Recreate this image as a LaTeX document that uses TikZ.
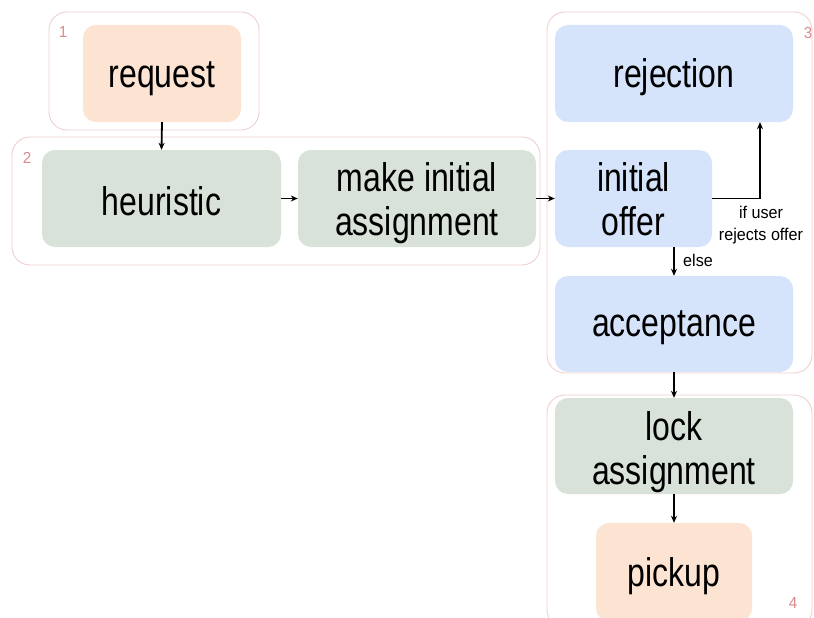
\documentclass[tikz,border=0pt]{standalone}
\usepackage{fontspec}
\setmainfont[FakeStretch=0.8]{Liberation Sans}
\newfontfamily\labelfont[FakeStretch=0.95]{Liberation Sans}
\usetikzlibrary{arrows.meta}
\definecolor{peach}{HTML}{FCE3D2}
\definecolor{sage}{HTML}{D9E2D9}
\definecolor{sky}{HTML}{D6E4FB}
\definecolor{frame}{HTML}{EFD0D0}
\definecolor{tag}{HTML}{D98C8E}
\tikzset{
  box/.style={rounded corners=13pt, draw=none, inner sep=0pt},
  boxtext/.style={inner sep=0pt, align=center, font=\fontsize{40}{44}\selectfont},
  group/.style={draw=frame, line width=0.9pt, rounded corners=18pt},
  tagnum/.style={text=tag, font=\labelfont\fontsize{16}{18}\selectfont, inner sep=0pt},
  arr/.style={draw=black, line width=1.8pt, -{Stealth[length=7pt,width=6pt]}},
  note/.style={font=\labelfont\fontsize{17}{22}\selectfont, align=center, inner sep=0pt}
}
\begin{document}
\begin{tikzpicture}[x=1pt,y=-1pt]
\useasboundingbox (0,0) rectangle (814,618);
\clip (0,0) rectangle (814,618);
\fill[white] (0,0) rectangle (814,618);

% stage frames
\draw[group] (49,12) rectangle (259,130);
\draw[group] (12,137) rectangle (540,265);
\draw[group] (547,12) rectangle (812,373);
\draw[group] (547,395) rectangle (812,628);

\node[tagnum] (t1) at (63,32) {1};
\node[tagnum] (t2) at (27,158) {2};
\node[tagnum] (t3) at (808,33) {3};
\node[tagnum] (t4) at (793,603) {4};

% step boxes
\node[box, fill=peach, minimum width=158pt, minimum height=97pt] (req) at (162,73.5) {};
\node[box, fill=sage, minimum width=239pt, minimum height=97pt] (heur) at (161.5,198.5) {};
\node[box, fill=sage, minimum width=238pt, minimum height=97pt] (make) at (417,198.5) {};
\node[box, fill=sky, minimum width=238pt, minimum height=97pt] (rej) at (674,73.5) {};
\node[box, fill=sky, minimum width=157pt, minimum height=97pt] (offer) at (633.5,198.5) {};
\node[box, fill=sky, minimum width=238pt, minimum height=96pt] (acc) at (674,324) {};
\node[box, fill=sage, minimum width=238pt, minimum height=96pt] (lock) at (674,446) {};
\node[box, fill=peach, minimum width=156pt, minimum height=98pt] (pick) at (674,572) {};

% step captions
\node[boxtext] (reqt) at ([yshift=-5pt]req.center) {request};
\node[boxtext] (heurt) at ([yshift=-3pt]heur.center) {heuristic};
\node[boxtext] (maket) at ([yshift=-5pt]make.center) {make initial\\assignment};
\node[boxtext] (rejt) at ([yshift=-4pt]rej.center) {rejection};
\node[boxtext] (offert) at ([yshift=-0.5pt]offer.center) {initial\\offer};
\node[boxtext] (acct) at ([yshift=-4pt]acc.center) {acceptance};
\node[boxtext] (lockt) at ([yshift=-6pt]lock.center) {lock\\assignment};
\node[boxtext] (pickt) at ([yshift=-4pt]pick.center) {pickup};

% flow
\draw[arr] (req.south) -- (heur.north);
\draw[arr] (heur.east) -- (make.west);
\draw[arr] (make.east) -- (offer.west);
\coordinate (rejfoot) at ([xshift=86pt]rej.south);
\draw[arr] (offer.east) -| (rejfoot);
\draw[arr] (offer.south -| acc.north) -- (acc.north);
\draw[arr] (acc.south) -- (lock.north);
\draw[arr] (lock.south) -- (pick.north);

\node[note] (ifrej) at (761,225) {if user\\rejects offer};
\node[note, anchor=west] (else) at (683,260) {else};
\end{tikzpicture}
\end{document}
